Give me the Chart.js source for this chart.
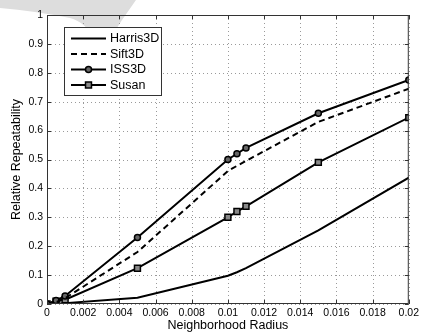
<!DOCTYPE html>
<html>
<head>
<meta charset="utf-8">
<script src="https://cdn.jsdelivr.net/npm/chart.js@4"></script>
<style>
  html, body { margin: 0; padding: 0; background: #fff; }
  #wrap { width: 422px; height: 334px; }
</style>
</head>
<body>
<div id="wrap"><canvas id="chart"></canvas></div>
<script>
// data
const radius   = [0, 0.0005, 0.001, 0.005, 0.01, 0.0105, 0.011, 0.015, 0.02];
const harris3d = [0, 0.001, 0.003, 0.022, 0.098, 0.11, 0.124, 0.255, 0.437];
const sift3d   = [0, 0.006, 0.02, 0.18, 0.46, 0.478, 0.495, 0.63, 0.745];
const iss3d    = [0, 0.012, 0.028, 0.23, 0.5, 0.52, 0.54, 0.66, 0.775];
const susan    = [0, 0.01, 0.015, 0.124, 0.3, 0.32, 0.338, 0.49, 0.645];

const xTickValues = [0, 0.002, 0.004, 0.006, 0.008, 0.01, 0.012, 0.014, 0.016, 0.018, 0.02];
const xTickLabels = ['0', '0.002', '0.004', '0.006', '0.008', '0.01', '0.012', '0.014', '0.016', '0.018', '0.02'];
const yTickValues = [0, 0.1, 0.2, 0.3, 0.4, 0.5, 0.6, 0.7, 0.8, 0.9, 1];
const yTickLabels = ['0', '0.1', '0.2', '0.3', '0.4', '0.5', '0.6', '0.7', '0.8', '0.9', '1'];

const FONT = '"Liberation Sans", Arial, Helvetica, sans-serif';
Chart.defaults.font.family = FONT;
Chart.defaults.color = '#000';

const toPoints = ys => radius.map((x, i) => ({ x: x, y: ys[i] }));

// faint grey watermark in the upper-left corner
const watermark = {
  id: 'watermark',
  beforeDraw(chart) {
    const ctx = chart.ctx;
    ctx.save();
    ctx.fillStyle = '#dddddd';
    ctx.beginPath();
    ctx.moveTo(0, 0);
    ctx.lineTo(136, 0);
    ctx.lineTo(122, 20);
    ctx.lineTo(108, 42);
    ctx.lineTo(100, 46);
    ctx.lineTo(94, 40);
    ctx.quadraticCurveTo(86, 22, 70, 18);
    ctx.quadraticCurveTo(35, 11, 0, 8);
    ctx.closePath();
    ctx.fill();
    ctx.restore();
  }
};

// dotted grid under the lines
const dottedGrid = {
  id: 'dottedGrid',
  beforeDatasetsDraw(chart) {
    const { ctx, chartArea: a, scales: { x, y } } = chart;
    ctx.save();
    ctx.strokeStyle = '#9a9a9a';
    ctx.lineWidth = 1;
    ctx.setLineDash([1, 3]);
    ctx.beginPath();
    xTickValues.forEach(v => {
      const px = Math.round(x.getPixelForValue(v)) + 0.5;
      ctx.moveTo(px, a.bottom); ctx.lineTo(px, a.top);
    });
    yTickValues.forEach(v => {
      const py = Math.round(y.getPixelForValue(v)) + 0.5;
      ctx.moveTo(a.left, py); ctx.lineTo(a.right, py);
    });
    ctx.stroke();
    ctx.restore();
  }
};

// axes box + inward ticks, like the matlab figure
const boxTicks = {
  id: 'boxTicks',
  afterDatasetsDraw(chart) {
    const { ctx, chartArea: a, scales: { x, y } } = chart;
    ctx.save();
    ctx.strokeStyle = '#333';
    ctx.lineWidth = 1;
    ctx.strokeRect(a.left + 0.5, a.top + 0.5, a.right - a.left - 1, a.bottom - a.top - 1);
    ctx.beginPath();
    xTickValues.forEach(v => {
      const px = Math.round(x.getPixelForValue(v)) + 0.5;
      ctx.moveTo(px, a.bottom); ctx.lineTo(px, a.bottom - 4);
      ctx.moveTo(px, a.top); ctx.lineTo(px, a.top + 4);
    });
    yTickValues.forEach(v => {
      const py = Math.round(y.getPixelForValue(v)) + 0.5;
      ctx.moveTo(a.left, py); ctx.lineTo(a.left + 4, py);
      ctx.moveTo(a.right, py); ctx.lineTo(a.right - 4, py);
    });
    ctx.stroke();
    ctx.restore();
  }
};

// legend box drawn inside the plot, top-left
const boxLegend = {
  id: 'boxLegend',
  afterDraw(chart) {
    const ctx = chart.ctx;
    const bx = 64.5, by = 27.5, bw = 97, bh = 68;
    ctx.save();
    ctx.fillStyle = '#fff';
    ctx.fillRect(bx, by, bw, bh);
    ctx.strokeStyle = '#333';
    ctx.lineWidth = 1;
    ctx.strokeRect(bx, by, bw, bh);
    const rows = [38.5, 54, 69.5, 85];
    chart.data.datasets.forEach((ds, i) => {
      const yy = rows[i];
      ctx.strokeStyle = '#000';
      ctx.lineWidth = 2;
      ctx.setLineDash(ds.borderDash || []);
      ctx.beginPath();
      ctx.moveTo(71, yy); ctx.lineTo(106, yy);
      ctx.stroke();
      ctx.setLineDash([]);
      if (ds.pointRadius > 0) {
        ctx.fillStyle = ds.pointBackgroundColor;
        ctx.strokeStyle = '#000';
        ctx.lineWidth = ds.pointBorderWidth;
        ctx.beginPath();
        if (ds.pointStyle === 'circle') {
          ctx.arc(88.5, yy, ds.pointRadius, 0, Math.PI * 2);
        } else {
          const s = ds.pointRadius * Math.SQRT1_2;
          ctx.rect(88.5 - s, yy - s, 2 * s, 2 * s);
        }
        ctx.fill();
        ctx.stroke();
      }
      ctx.fillStyle = '#000';
      ctx.font = '12.5px ' + FONT;
      ctx.textBaseline = 'middle';
      ctx.textAlign = 'left';
      ctx.fillText(ds.label, 110, yy + 0.5);
    });
    ctx.restore();
  }
};

new Chart(document.getElementById('chart'), {
  type: 'line',
  data: {
    datasets: [
      { label: 'Harris3D', data: toPoints(harris3d), borderColor: '#000', borderWidth: 2, pointRadius: 0 },
      { label: 'Sift3D', data: toPoints(sift3d), borderColor: '#000', borderWidth: 2, borderDash: [6, 4], pointRadius: 0 },
      { label: 'ISS3D', data: toPoints(iss3d), borderColor: '#000', borderWidth: 2,
        pointStyle: 'circle', pointRadius: 3, pointBorderWidth: 1.5,
        pointBackgroundColor: '#666', pointBorderColor: '#000' },
      { label: 'Susan', data: toPoints(susan), borderColor: '#000', borderWidth: 2,
        pointStyle: 'rect', pointRadius: 4.2, pointBorderWidth: 1.5,
        pointBackgroundColor: '#888', pointBorderColor: '#000' }
    ]
  },
  options: {
    responsive: true,
    maintainAspectRatio: false,
    animation: false,
    layout: { padding: { top: 15, right: 11, left: 0, bottom: 0 } },
    plugins: { legend: { display: false }, tooltip: { enabled: false } },
    elements: { line: { tension: 0, fill: false } },
    scales: {
      x: {
        type: 'linear', min: 0, max: 0.02,
        afterBuildTicks: s => { s.ticks = xTickValues.map(v => ({ value: v })); },
        afterFit: s => { s.height = 30; },
        ticks: { padding: 3, font: { size: 10.5 }, maxRotation: 0, autoSkip: false,
                 callback: (v, i) => xTickLabels[i] },
        grid: { display: false, drawTicks: false },
        border: { display: false },
        title: { display: true, text: 'Neighborhood Radius', font: { size: 12.5 }, padding: { top: 0, bottom: 1 } }
      },
      y: {
        min: 0, max: 1,
        afterBuildTicks: s => { s.ticks = yTickValues.map(v => ({ value: v })); },
        afterFit: s => { s.width = 47; },
        ticks: { padding: 4, font: { size: 10.5 }, autoSkip: false,
                 callback: (v, i) => yTickLabels[i] },
        grid: { display: false, drawTicks: false },
        border: { display: false },
        title: { display: true, text: 'Relative Repeatability', font: { size: 12.5 }, padding: { top: 9, bottom: 0 } }
      }
    }
  },
  plugins: [watermark, dottedGrid, boxTicks, boxLegend]
});
</script>
</body>
</html>
